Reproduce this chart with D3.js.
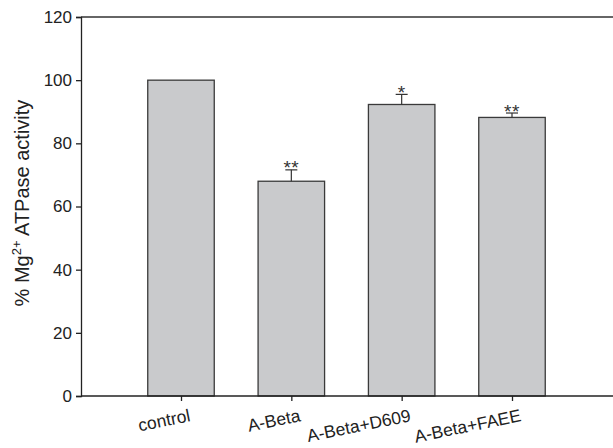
<!DOCTYPE html>
<html>
<head>
<meta charset="utf-8">
<script src="https://cdn.jsdelivr.net/npm/d3@7"></script>
<style>
  html, body { margin: 0; padding: 0; background: #fff; }
  svg { display: block; }
  text { font-family: "Liberation Sans", Arial, sans-serif; fill: #222; }
</style>
</head>
<body>
<svg id="chart" width="613" height="448"></svg>
<script>
// Mg2+ ATPase activity per treatment group (% of control)
const categories = ["control", "A-Beta", "A-Beta+D609", "A-Beta+FAEE"];
const activity   = [100, 68.0, 92.3, 88.2];
const errors     = [0, 3.6, 3.2, 1.4];
const marks      = ["", "**", "*", "**"];
const yTicks     = [0, 20, 40, 60, 80, 100, 120];

const svg = d3.select("#chart");
const W = 613, H = 448;
const plotLeft = 81, plotTop = 17, plotBottom = 396;

const y = d3.scaleLinear().domain([0, 120]).range([plotBottom, plotTop]);
const x = d3.scalePoint().domain(categories).range([181, 512]);
const barW = 66.5;

// frame: top line spanning to the right edge
svg.append("line")
  .attr("x1", plotLeft).attr("x2", W).attr("y1", plotTop).attr("y2", plotTop)
  .attr("stroke", "#333").attr("stroke-width", 1.4);

// bars
const g = svg.append("g");
g.selectAll("rect.bar").data(categories).join("rect")
  .attr("class", "bar")
  .attr("x", d => x(d) - barW / 2)
  .attr("width", barW)
  .attr("y", (d, i) => y(activity[i]))
  .attr("height", (d, i) => y(0) - y(activity[i]))
  .attr("fill", "#c9cacc")
  .attr("stroke", "#3a3a3a")
  .attr("stroke-width", 1.3);

// error bars (upper only) with significance stars
categories.forEach((c, i) => {
  if (!errors[i]) return;
  const cx = x(c), y0 = y(activity[i]), y1 = y(activity[i] + errors[i]);
  g.append("line").attr("x1", cx).attr("x2", cx).attr("y1", y0).attr("y2", y1)
    .attr("stroke", "#333").attr("stroke-width", 1.2);
  g.append("line").attr("x1", cx - 6).attr("x2", cx + 6).attr("y1", y1).attr("y2", y1)
    .attr("stroke", "#333").attr("stroke-width", 1.2);
  g.append("text").attr("x", cx).attr("y", y1 + 4.5)
    .attr("text-anchor", "middle").attr("font-size", 19)
    .attr("letter-spacing", 0.5)
    .style("fill", "#333")
    .text(marks[i]);
});

// y axis
const yAxis = svg.append("g").attr("transform", `translate(${plotLeft},0)`)
  .call(d3.axisLeft(y).tickValues(yTicks).tickSize(5).tickPadding(4));
yAxis.selectAll("path, line").attr("stroke", "#222").attr("stroke-width", 1.3);
yAxis.selectAll("text").attr("font-size", 17).style("fill", "#222")
  .attr("font-family", "Liberation Sans, Arial, sans-serif");

// x axis (line runs to the right edge)
svg.append("line")
  .attr("x1", plotLeft).attr("x2", W).attr("y1", plotBottom).attr("y2", plotBottom)
  .attr("stroke", "#222").attr("stroke-width", 1.4);
const xAxis = svg.append("g").attr("transform", `translate(0,${plotBottom})`)
  .call(d3.axisBottom(x).tickSize(5).tickFormat(""));
xAxis.select(".domain").remove();
xAxis.selectAll("line").attr("stroke", "#222").attr("stroke-width", 1.3);

// slanted category labels
svg.append("g").selectAll("text").data(categories).join("text")
  .attr("text-anchor", "end")
  .attr("font-size", 17.5)
  .attr("transform", d => `translate(${x(d) + 10},${421}) rotate(-11.5)`)
  .text(d => d);

// y axis title
const yt = svg.append("text")
  .attr("text-anchor", "middle")
  .attr("font-size", 20)
  .attr("transform", `translate(29,${203}) rotate(-90)`);
yt.append("tspan").text("% Mg");
yt.append("tspan").attr("font-size", 13).attr("dy", -8).text("2+");
yt.append("tspan").attr("dy", 8).text(" ATPase activity");
</script>
</body>
</html>
